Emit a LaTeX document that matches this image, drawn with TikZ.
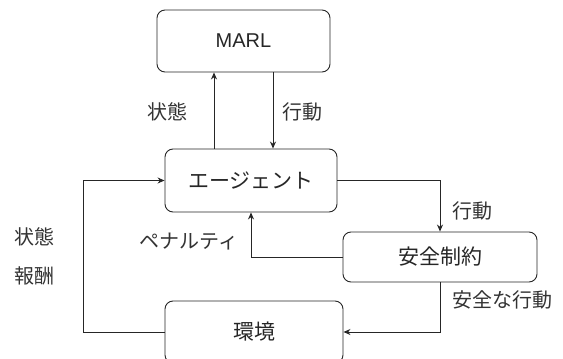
\documentclass[tikz,border=0pt]{standalone}
\usepackage{fontspec}
\setmainfont{Liberation Sans}
\newfontfamily\cjk{Noto Sans CJK JP}
\usetikzlibrary{arrows.meta,positioning}
\begin{document}
\begin{tikzpicture}[x=1pt,y=-1pt,
  box/.style={draw=black!85,line width=0.9pt,rounded corners=8pt,inner sep=0pt,
    text=black!85,font=\fontsize{21}{24}\selectfont\cjk},
  arr/.style={draw=black!85,line width=0.9pt,-{Stealth[length=7pt,width=6pt]}},
  lbl/.style={font=\fontsize{20}{24}\selectfont\cjk,text=black!80,inner sep=0pt}]
\useasboundingbox (0,0) rectangle (563,359);
\node[box,minimum width=173pt,minimum height=62pt,font=\fontsize{20}{24}\selectfont] (marl) at (243.5,41) {MARL};
\node[box,minimum width=172pt,minimum height=63pt] (agent) at (251,180.5) {エージェント};
\node[box,minimum width=194pt,minimum height=50pt] (safety) at (440,257) {安全制約};
\node[box,minimum width=178pt,minimum height=62pt] (env) at (254,332) {環境};
\coordinate (upx) at (214,0);
\coordinate (dnx) at (273,0);
\coordinate (lx) at (83,332);
\draw[arr] (agent.north -| upx) -- (marl.south -| upx);
\draw[arr] (marl.south -| dnx) -- (agent.north -| dnx);
\draw[arr] (agent.east) -| (safety.north);
\draw[arr] (safety.south) |- (env.east);
\draw[arr] (safety.west) -| (agent.south);
\draw[arr] (env.west) -- (lx) |- (agent.west);
\node[lbl] (l1) at (167,112) {状態};
\node[lbl] (l2) at (302,112) {行動};
\node[lbl] (l3) at (472,211) {行動};
\node[lbl] (l4) at (189,242) {ペナルティ};
\node[lbl] (l5) at (502,300) {安全な行動};
\node[lbl] (l6) at (35,237) {状態};
\node[lbl] (l7) at (35,276) {報酬};
\end{tikzpicture}
\end{document}
